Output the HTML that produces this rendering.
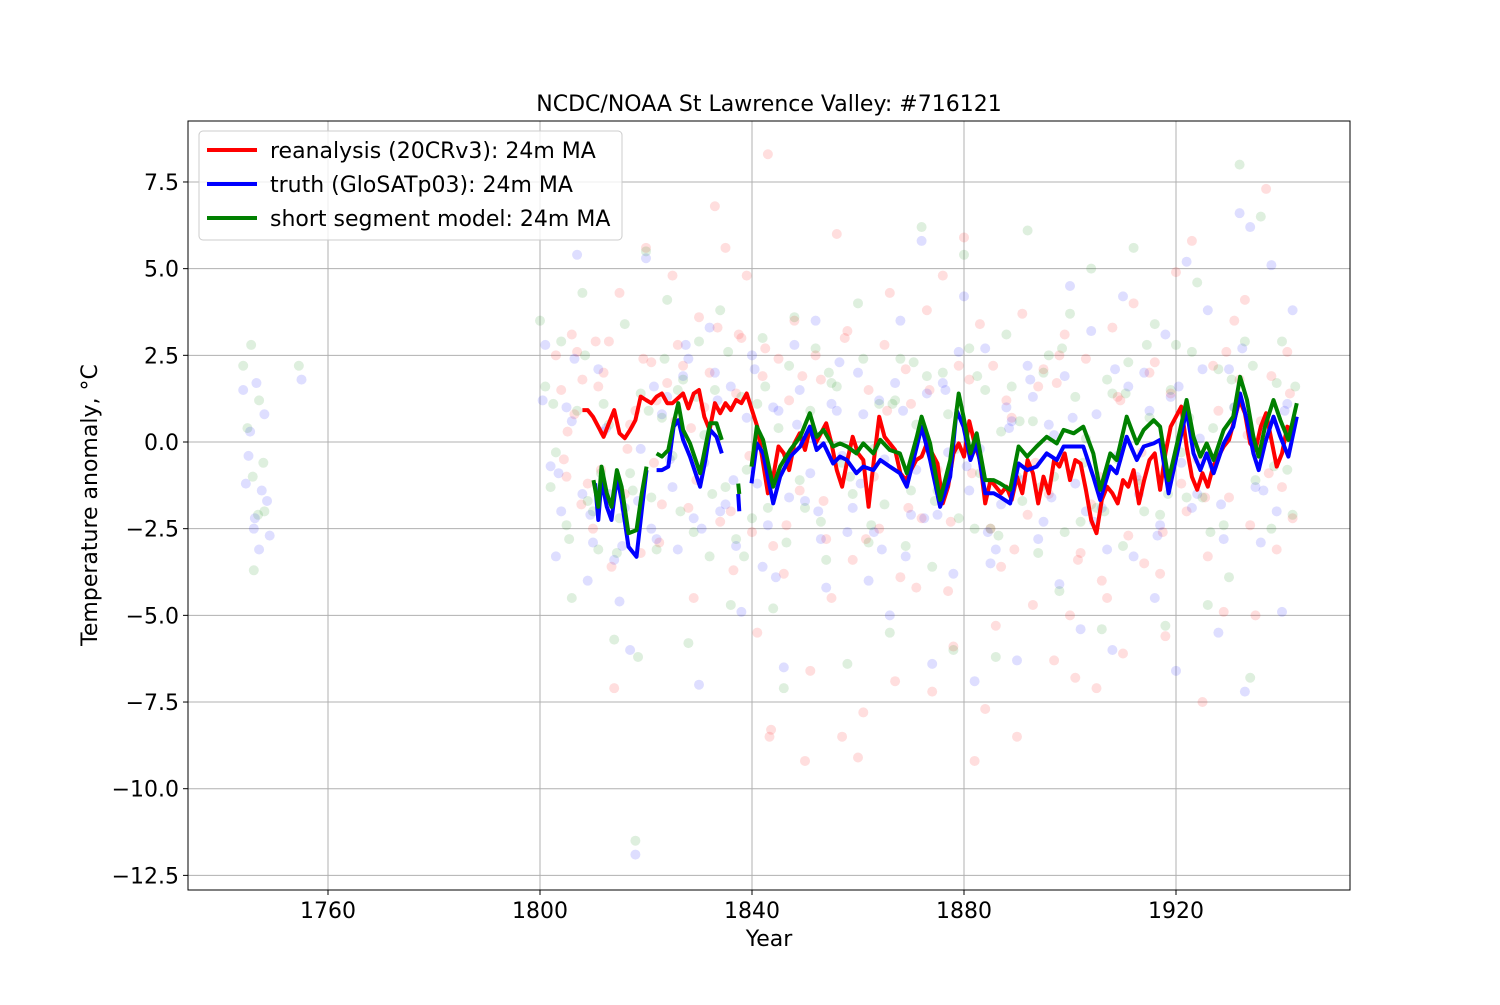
<!DOCTYPE html>
<html><head><meta charset="utf-8"><style>
body{margin:0;background:#fff;font-family:"Liberation Sans","DejaVu Sans",sans-serif}
svg text{font-family:"DejaVu Sans","Liberation Sans",sans-serif;fill:#000}
</style></head><body>
<svg id="chart" width="1500" height="1000" viewBox="0 0 1500 1000" xmlns="http://www.w3.org/2000/svg">
<rect width="1500" height="1000" fill="#fff"/>
<g id="grid"></g>
<g id="scatter"></g>
<g id="lines"></g>
<rect x="188" y="121" width="1162" height="769" fill="none" stroke="#000" stroke-width="1"/>
<g id="axes"></g>
<text x="769" y="111" font-size="22" text-anchor="middle">NCDC/NOAA St Lawrence Valley: #716121</text>
<text x="769" y="946" font-size="22" text-anchor="middle">Year</text>
<text transform="translate(97,505) rotate(-90)" font-size="22" text-anchor="middle">Temperature anomaly, °C</text>
<g>
<rect x="199" y="131" width="423" height="109" rx="4" fill="#fff" fill-opacity="0.8" stroke="#ccc"/>
<g><line x1="207" y1="150" x2="257" y2="150" stroke="#ff0000" stroke-width="4"/><text x="270" y="158" font-size="22">reanalysis (20CRv3): 24m MA</text></g>
<g><line x1="207" y1="184" x2="257" y2="184" stroke="#0000ff" stroke-width="4"/><text x="270" y="192" font-size="22">truth (GloSATp03): 24m MA</text></g>
<g><line x1="207" y1="218" x2="257" y2="218" stroke="#008000" stroke-width="4"/><text x="270" y="226" font-size="22">short segment model: 24m MA</text></g>
</g>
</svg>
<script>
const xTicks=[1760,1800,1840,1880,1920];
const yTicks=[7.5,5.0,2.5,0.0,-2.5,-5.0,-7.5,-10.0,-12.5];
const yTickLabels=["7.5","5.0","2.5","0.0","\u22122.5","\u22125.0","\u22127.5","\u221210.0","\u221212.5"];

const redYears=[1808,1809,1810,1811,1812,1813,1814,1815,1816,1817,1818,1819,1820,1821,1822,1823,1824,1825,1826,1827,1828,1829,1830,1831,1832,1833,1834,1835,1836,1837,1838,1839,1840,1841,1842,1843,1844,1845,1846,1847,1848,1849,1850,1851,1852,1853,1854,1855,1856,1857,1858,1859,1860,1861,1862,1863,1864,1865,1866,1867,1868,1869,1870,1871,1872,1873,1874,1875,1876,1877,1878,1879,1880,1881,1882,1883,1884,1885,1886,1887,1888,1889,1890,1891,1892,1893,1894,1895,1896,1897,1898,1899,1900,1901,1902,1903,1904,1905,1906,1907,1908,1909,1910,1911,1912,1913,1914,1915,1916,1917,1918,1919,1920,1921,1922,1923,1924,1925,1926,1927,1928,1929,1930,1931,1932,1933,1934,1935,1936,1937,1938,1939,1940,1941,1942];
const redValues=[0.92,0.92,0.73,0.44,0.15,0.54,0.92,0.25,0.11,0.35,0.63,1.31,1.21,1.12,1.31,1.4,1.12,1.12,1.26,1.4,0.97,1.4,1.5,0.73,0.35,1.12,0.83,1.12,0.92,1.21,1.12,1.4,0.92,0.44,-0.52,-1.48,-1.0,-0.13,-0.33,-0.81,-0.04,0.25,-0.23,0.44,-0.04,0.25,0.54,-0.04,-0.81,-1.29,-0.52,0.15,-0.33,-0.52,-1.87,-0.52,0.73,0.15,-0.04,-0.23,-0.9,-1.1,-0.81,-0.52,-0.42,-0.04,-0.33,-0.62,-1.77,-1.29,-0.33,-0.04,-0.42,0.6,-0.04,-0.52,-1.77,-1.1,-1.29,-1.48,-1.29,-1.67,-1.0,-1.48,-0.52,-0.9,-1.77,-1.0,-1.48,-0.52,-0.71,-0.33,-1.1,-0.52,-0.62,-1.38,-2.25,-2.63,-1.67,-1.29,-1.48,-1.77,-1.1,-1.29,-0.81,-1.77,-1.1,-0.52,-0.33,-1.38,-0.33,0.44,0.73,1.02,-0.13,-1.0,-1.38,-0.9,-1.29,-0.71,-0.42,-0.13,0.06,0.63,1.21,0.83,-0.04,-0.23,0.44,0.83,0.06,-0.71,-0.33,0.44,0.35];

const blueYears=[1810.4,1811.0,1811.6,1812.6,1813.5,1814.5,1815.4,1816.7,1818.2,1819.2,1820.1,null,1822.0,1823.0,1824.2,1825.2,1826.1,1827.0,1828.3,1830.2,1831.2,1832.1,1833.3,1834.3,null,1837.4,1837.6,null,1839.9,1840.9,1842.1,1844.0,1845.3,1847.2,1849.1,1850.9,1852.2,1853.5,1855.3,1856.6,1857.9,1859.7,1861.0,1862.9,1864.2,1866.0,1867.9,1869.2,1871.1,1872.0,1873.6,1875.5,1877.4,1878.6,1879.9,1881.2,1882.4,1884.0,1885.6,1886.8,1888.7,1890.3,1891.9,1893.7,1895.6,1897.5,1898.8,1900.7,1902.5,1904.4,1905.7,1907.6,1908.8,1910.7,1912.6,1913.9,1915.8,1917.0,1918.6,1920.2,1922.0,1923.3,1924.6,1925.8,1927.1,1929.0,1930.8,1932.1,1933.4,1934.6,1935.6,1936.8,1938.4,1939.7,1941.2,1942.8];
const blueValues=[-1.19,-2.25,-1.1,-1.87,-2.25,-1.0,-1.67,-3.02,-3.31,-1.96,-0.81,null,-0.81,-0.81,-0.71,0.44,0.63,0.06,-0.42,-1.29,-0.52,0.35,0.15,-0.33,null,-1.5,-2.0,null,-1.19,-0.04,-0.33,-1.77,-1.0,-0.42,-0.13,0.44,-0.23,-0.04,-0.62,-0.42,-0.52,-0.9,-0.71,-0.81,-0.52,-0.71,-0.9,-1.29,-0.13,0.44,-0.52,-1.87,-1.0,0.92,0.44,-0.52,-0.04,-1.48,-1.48,-1.58,-1.77,-0.62,-0.81,-0.71,-0.33,-0.52,-0.13,-0.13,-0.13,-1.0,-1.67,-0.71,-0.9,0.15,-0.52,-0.13,-0.04,0.06,-1.48,-0.33,0.92,-0.33,-0.81,-0.33,-0.9,-0.04,0.44,1.4,0.63,-0.33,-0.81,-0.04,0.73,0.15,-0.42,0.73];

const greenYears=[1810.1,1811.0,1811.6,1812.6,1813.5,1814.5,1815.4,1816.7,1818.2,1819.2,1820.1,null,1822.0,1823.0,1824.2,1825.2,1826.1,1827.0,1828.3,1830.2,1832.1,1833.3,1834.3,null,1837.4,1837.6,null,1839.9,1840.9,1842.1,1844.0,1845.3,1847.2,1849.1,1850.9,1852.2,1853.5,1855.3,1856.6,1857.9,1859.7,1861.0,1862.9,1864.2,1866.0,1867.9,1869.2,1871.1,1872.0,1873.6,1875.5,1877.4,1879.0,1879.9,1881.2,1882.4,1884.0,1885.6,1886.8,1888.7,1890.3,1891.9,1893.7,1895.6,1897.5,1898.8,1900.7,1902.5,1904.4,1905.7,1907.6,1908.8,1910.7,1912.6,1913.9,1915.8,1917.0,1918.6,1920.2,1922.0,1923.3,1924.6,1925.8,1927.1,1929.0,1930.8,1932.1,1933.4,1934.6,1935.6,1936.8,1938.4,1939.7,1941.2,1942.8];
const greenValues=[-1.1,-1.87,-0.71,-1.48,-1.87,-0.81,-1.29,-2.63,-2.54,-1.48,-0.71,null,-0.33,-0.42,-0.23,0.54,1.12,0.35,-0.04,-0.9,0.54,0.54,0.06,null,-1.2,-1.5,null,-0.71,0.44,0.06,-1.29,-0.71,-0.23,0.15,0.83,0.15,0.35,-0.13,-0.04,-0.13,-0.33,-0.04,-0.33,0.06,-0.23,-0.33,-0.9,0.15,0.73,-0.04,-1.67,-0.52,1.4,0.73,-0.33,0.25,-1.1,-1.1,-1.19,-1.38,-0.13,-0.42,-0.13,0.15,-0.04,0.35,0.25,0.44,-0.33,-1.38,-0.33,-0.52,0.73,-0.04,0.35,0.63,0.44,-1.1,-0.04,1.21,0.15,-0.42,-0.04,-0.52,0.35,0.73,1.88,1.21,0.15,-0.42,0.44,1.21,0.63,0.06,1.12];

/* monthly scatter samples (year, anomaly) */
const redPtYears=[1803,1805,1806,1808,1810,1812,1814,1815,1817,1819,1820,1822,1823,1825,1827,1829,1830,1831,1833,1835,1836,1838,1839,1841,1843,1843.3,1843.6,1845,1846,1848,1850,1851,1853,1855,1856,1857,1858,1860,1861,1862,1864,1866,1867,1869,1871,1873,1874,1876,1878,1879,1880,1882,1883,1884,1886,1888,1890,1891,1893,1895,1897,1899,1900,1901,1903,1905,1907,1908,1910,1912,1914,1916,1918,1920,1921,1923,1925,1927,1929,1931,1933,1935,1937,1939,1941,1942,
1804,1804.5,1806.5,1807,1809,1811,1811.5,1813,1816,1818,1821,1821.5,1824,1826,1828,1828.5,1832,1834,1837,1837.5,1840,1842,1844,1847,1849,1852,1854,1859,1863,1865,1868,1870,1872,1875,1877,1881,1885,1887,1889,1892,1894,1896,1898,1902,1904,1906,1909,1911,1913,1915,1917,1919,1922,1924,1926,1928,1930,1932,1934,1936,1938,1940,
1805.2,1807.8,1810.5,1813.5,1816.5,1819.5,1822.5,1825.5,1829.5,1833.5,1836.5,1839.5,1842.5,1846.5,1849.5,1853.5,1857.5,1861.5,1865.5,1869.5,1873.5,1877.5,1881.5,1885.5,1889.5,1893.5,1897.5,1901.5,1905.5,1909.5,1913.5,1917.5,1921.5,1925.5,1929.5,1933.5,1937.5,1941.5];
const redPtValues=[2.5,-1.0,3.1,1.8,-2.5,2.0,-7.1,4.3,0.5,-3.2,5.6,1.2,-1.8,4.8,2.2,-4.5,3.6,1.0,6.8,5.6,-2.0,3.0,4.8,-5.5,8.3,-8.5,-8.3,2.4,-3.8,3.5,-9.2,-6.6,1.8,-4.5,6.0,-8.5,3.2,-9.1,-7.8,1.5,-2.5,4.3,-6.9,2.1,-4.2,3.8,-7.2,4.8,-5.9,2.2,5.9,-9.2,3.4,-7.7,-5.3,1.2,-8.5,3.7,-4.7,2.1,-6.3,3.1,-5.0,-6.8,2.4,-7.1,-4.5,3.3,-6.1,4.0,-3.5,2.3,-5.6,4.9,-1.2,5.8,-7.5,2.2,-4.9,3.5,4.1,-5.0,7.3,-3.1,2.6,-2.2,
1.5,-0.5,0.8,2.6,-1.2,1.6,-0.8,2.9,-1.5,0.9,2.3,-0.6,1.7,2.8,-1.9,0.4,2.0,-2.3,1.4,3.1,-2.6,1.9,-3.0,1.2,-1.4,2.5,-2.8,-3.4,-1.0,2.8,-3.9,1.1,-2.2,-0.8,-4.3,1.8,-2.5,-3.6,0.7,-2.1,1.6,-1.5,2.5,-3.2,-1.8,-4.0,1.3,-2.7,-1.1,2.0,-3.8,1.4,-2.0,-0.5,-3.3,0.9,-1.6,1.8,-2.4,0.6,1.9,-1.3,
0.3,-1.8,2.9,-3.6,-0.2,2.4,-2.9,0.6,-1.1,3.3,-3.7,-0.4,2.7,-2.4,1.9,-1.7,3.0,-2.8,0.9,-1.9,1.5,-2.3,-0.9,2.2,-3.1,-0.6,1.7,-3.4,-1.0,1.2,-0.3,-2.6,0.8,-1.6,2.6,0.2,-0.9,1.4];
const bluePtYears=[1744,1745,1746,1746.5,1747,1748,1749,1755,1801,1803,1805,1807,1809,1811,1813,1815,1817,1818,1820,1822,1824,1826,1828,1830,1832,1834,1836,1838,1840,1842,1844,1846,1848,1850,1852,1854,1856,1858,1860,1862,1864,1866,1868,1870,1872,1874,1876,1878,1880,1882,1884,1886,1888,1890,1892,1894,1896,1898,1900,1902,1904,1906,1908,1910,1912,1914,1916,1918,1920,1922,1924,1926,1928,1930,1932,1933,1934,1936,1938,1940,1942,
1744.5,1745.3,1746.2,1747.5,1748.5,1800.5,1802,1804,1806,1808,1810,1812,1814,1816,1819,1821,1823,1825,1827,1829,1831,1833,1835,1837,1839,1841,1843,1845,1847,1849,1851,1853,1855,1857,1859,1861,1863,1865,1867,1869,1871,1873,1875,1877,1879,1881,1883,1885,1887,1889,1891,1893,1895,1897,1899,1901,1903,1905,1907,1909,1911,1913,1915,1917,1919,1921,1923,1925,1927,1929,1931,1935,1937,1939,1941,
1803.5,1806.5,1809.5,1812.5,1815.5,1818.5,1821.5,1824.5,1827.5,1830.5,1833.5,1836.5,1840.5,1844.5,1848.5,1852.5,1856.5,1860.5,1864.5,1868.5,1872.5,1876.5,1880.5,1884.5,1888.5,1892.5,1896.5,1900.5,1904.5,1908.5,1912.5,1916.5,1920.5,1924.5,1928.5,1932.5,1936.5,1940.5];
const bluePtValues=[1.5,-0.4,-2.5,1.7,-3.1,0.8,-2.7,1.8,2.8,-3.3,1.0,5.4,-4.0,2.1,-1.5,-4.6,-6.0,-11.9,5.3,-2.8,1.3,-3.1,2.4,-7.0,3.3,-2.0,1.6,-4.9,2.5,-3.6,1.0,-6.5,2.8,-1.7,3.5,-4.2,0.9,-2.6,2.0,-4.0,1.2,-5.0,3.5,-2.1,5.8,-6.4,1.7,-3.8,4.2,-6.9,2.7,-3.1,1.0,-6.3,2.2,-2.8,0.5,-4.1,4.5,-5.4,3.2,-1.9,-6.0,4.2,-3.3,2.0,-4.5,3.1,-6.6,5.2,-1.5,3.8,-5.5,2.1,6.6,-7.2,6.2,-2.9,5.1,-4.9,3.8,
-1.2,0.3,-2.2,-1.4,-1.7,1.2,-0.7,-2.0,0.6,-1.5,-2.9,0.3,-3.4,-1.9,-0.2,-2.5,0.8,-1.3,1.9,-2.2,-0.6,2.0,-1.8,-3.0,0.7,-1.2,-2.4,0.9,-1.6,1.5,-0.9,-2.8,1.1,-0.4,-1.9,0.8,-2.6,-0.5,1.7,-3.3,-0.8,1.4,-2.1,-0.3,2.6,-1.4,-0.2,-3.5,-1.8,0.6,-1.1,1.3,-2.3,0.2,1.9,-1.2,-2.0,0.8,-3.1,-0.4,1.6,-1.5,0.9,-2.4,1.3,-0.6,-1.9,2.1,-0.7,-2.8,1.0,-1.3,0.4,-2.0,1.1,
-0.9,2.4,-2.1,0.4,-3.0,-1.7,1.6,-0.5,2.8,-2.5,1.2,-1.1,2.1,-3.9,0.5,-2.0,2.3,-1.2,-3.1,0.9,-2.2,1.5,-0.7,-2.6,0.4,1.8,-1.6,0.7,-2.3,2.1,-1.0,-2.7,1.6,0.1,-1.8,2.7,-1.4,0.9];
const greenPtYears=[1744,1745.5,1746,1747,1748,1754.5,1800,1802,1804,1806,1808,1810,1812,1814,1816,1818,1818.5,1820,1822,1824,1826,1828,1830,1832,1834,1836,1838,1840,1842,1844,1846,1848,1850,1852,1854,1856,1858,1860,1862,1864,1866,1868,1870,1872,1874,1876,1878,1880,1882,1884,1886,1888,1890,1892,1894,1896,1898,1900,1902,1904,1906,1908,1910,1912,1914,1916,1918,1920,1922,1924,1926,1928,1930,1932,1934,1936,1938,1940,1942,
1744.8,1745.8,1746.8,1747.8,1801,1803,1805,1807,1809,1811,1813,1815,1817,1819,1821,1823,1825,1827,1829,1831,1833,1835,1837,1839,1841,1843,1845,1847,1849,1851,1853,1855,1857,1859,1861,1863,1865,1867,1869,1871,1873,1875,1877,1879,1881,1883,1885,1887,1889,1891,1893,1895,1897,1899,1901,1903,1905,1907,1909,1911,1913,1915,1917,1919,1921,1923,1925,1927,1929,1931,1933,1935,1937,1939,1941,
1802.5,1805.5,1808.5,1811.5,1814.5,1817.5,1820.5,1823.5,1826.5,1829.5,1832.5,1835.5,1838.5,1842.5,1846.5,1850.5,1854.5,1858.5,1862.5,1866.5,1870.5,1874.5,1878.5,1882.5,1886.5,1890.5,1894.5,1898.5,1902.5,1906.5,1910.5,1914.5,1918.5,1922.5,1926.5,1930.5,1934.5,1938.5,1942.5];
const greenPtValues=[2.2,2.8,-3.7,1.2,-2.0,2.2,3.5,-1.3,2.9,-4.5,4.3,-2.0,1.1,-5.7,3.4,-11.5,-6.2,5.5,-3.1,4.1,1.5,-5.8,2.9,-3.3,3.8,-4.7,1.3,-2.2,3.0,-4.8,-7.1,3.6,-1.9,2.7,-3.4,1.6,-6.4,4.0,-2.9,1.1,-5.5,2.4,-1.4,6.2,-3.6,2.0,-6.0,5.4,-2.5,1.5,-6.2,3.1,-1.0,6.1,-3.2,2.5,-4.3,3.7,-2.3,5.0,-5.4,1.4,-3.0,5.6,-2.0,3.4,-5.3,2.8,-1.6,4.6,-4.7,2.1,-3.9,8.0,-6.8,6.5,-2.5,2.9,-2.1,
0.4,-1.0,-2.1,-0.6,1.6,-0.3,-2.4,0.9,-1.7,-3.1,0.5,-2.2,-0.9,1.4,-1.6,0.7,-0.4,1.8,-2.6,0.2,1.5,-1.3,-2.8,-0.8,1.1,-1.9,0.4,2.2,-1.1,0.9,-2.3,1.7,-0.6,-1.5,2.4,-0.2,-1.8,1.2,-3.0,0.5,1.9,-1.4,0.8,-2.2,2.7,-0.9,-2.5,0.3,1.6,-1.7,0.6,2.0,-1.0,-2.6,1.3,0.1,-1.9,1.8,-0.5,2.3,-1.2,0.7,-2.1,1.5,-0.3,2.6,-1.6,0.4,-2.4,1.0,2.9,-1.1,0.6,1.7,-0.8,
1.1,-2.8,2.5,-0.9,-3.2,-1.4,0.9,2.4,-2.0,1.3,-1.5,2.6,-3.3,1.6,-2.9,0.3,2.0,-1.0,-2.4,1.1,2.3,-1.7,-0.2,1.9,-2.7,0.6,-1.3,2.7,-0.6,-2.0,1.4,2.8,-1.5,0.7,-2.6,1.8,2.2,-0.7,1.6];

const X0=188,X1=1350,Y0=121,Y1=890;
function xs(yr){return 540+(yr-1800)*5.3;}
function ys(v){return 442-v*34.67;}
const NS='http://www.w3.org/2000/svg';
function mk(tag,attrs,parent){const e=document.createElementNS(NS,tag);for(const k in attrs)e.setAttribute(k,attrs[k]);parent.appendChild(e);return e;}
const grid=document.getElementById('grid'),axes=document.getElementById('axes');
xTicks.forEach(t=>{const x=xs(t);
 const g=mk('line',{x1:x,x2:x,y1:Y0,y2:Y1,stroke:'#b0b0b0','stroke-width':1},grid);
 
 mk('line',{x1:x,x2:x,y1:Y1,y2:Y1+5,stroke:'#000'},axes);
 const tx=mk('text',{x:x,y:Y1+28,'font-size':22,'text-anchor':'middle'},axes);tx.textContent=String(t);
 });
yTicks.forEach((t,i)=>{const y=ys(t);
 const g=mk('line',{x1:X0,x2:X1,y1:y,y2:y,stroke:'#b0b0b0','stroke-width':1},grid);
 
 mk('line',{x1:X0-5,x2:X0,y1:y,y2:y,stroke:'#000'},axes);
 const tx=mk('text',{x:X0-9,y:y+8,'font-size':22,'text-anchor':'end'},axes);tx.textContent=yTickLabels[i];
 });
const sc=document.getElementById('scatter');
function pts(yrs,vals,col,name){yrs.forEach((yr,i)=>{const c=mk('circle',{cx:xs(yr),cy:ys(vals[i]),r:5,fill:col,'fill-opacity':0.13},sc);
 });}
pts(redPtYears,redPtValues,'#ff0000','reanalysis-point');
pts(bluePtYears,bluePtValues,'#0000ff','truth-point');
pts(greenPtYears,greenPtValues,'#008000','model-point');
const ln=document.getElementById('lines');
function line(yrs,vals,col,name){let d='',pen=false;yrs.forEach((yr,i)=>{if(yr===null||vals[i]===null){pen=false;return;}
 d+=(pen?'L':'M')+xs(yr).toFixed(1)+','+ys(vals[i]).toFixed(1);pen=true;});
 const p=mk('path',{d:d,fill:'none',stroke:col,'stroke-width':4,'stroke-linejoin':'round'},ln);
 }
line(redYears,redValues,'#ff0000','reanalysis-ma-line');
line(blueYears,blueValues,'#0000ff','truth-ma-line');
line(greenYears,greenValues,'#008000','model-ma-line');
</script>
</body></html>
